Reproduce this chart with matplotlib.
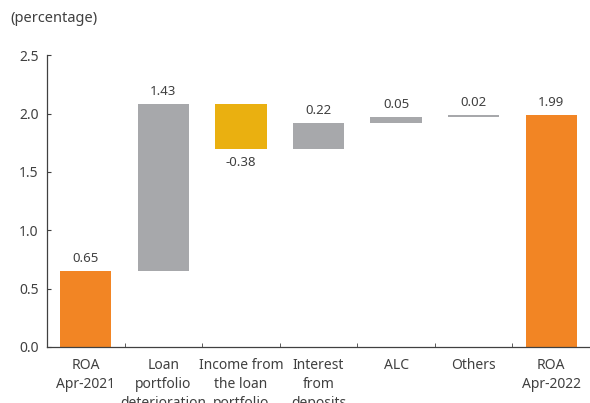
import matplotlib
matplotlib.use("Agg")
import matplotlib.pyplot as plt

categories = ["ROA\nApr-2021", "Loan\nportfolio\ndeterioration", "Income from\nthe loan\nportfolio",
              "Interest\nfrom\ndeposits", "ALC", "Others", "ROA\nApr-2022"]
changes = [0.65, 1.43, -0.38, 0.22, 0.05, 0.02, 1.99]
labels = ["0.65", "1.43", "-0.38", "0.22", "0.05", "0.02", "1.99"]
kinds = ["total", "delta", "delta", "delta", "delta", "delta", "total"]

ORANGE = "#F28524"
GRAY = "#A7A8AB"
GOLD = "#EAB010"
TXT = "#404040"

plt.rcParams['font.family'] = ['Noto Sans', 'DejaVu Sans']

fig = plt.figure(figsize=(5.9, 4.03), dpi=100)
ax = fig.add_axes([47/590, (403-347)/403, 1-47/590, (347-55.3)/403])

running = 0.0
for i, (v, k) in enumerate(zip(changes, kinds)):
    if k == "total":
        bottom, height = 0, v
        running = v
        color = ORANGE
    else:
        bottom, height = running, v
        running += v
        color = GOLD if v < 0 else GRAY
    ax.bar(i, height, bottom=bottom, width=0.66, color=color, edgecolor='none')
    top = max(bottom, bottom + height)
    low = min(bottom, bottom + height)
    if v >= 0:
        ax.text(i, top + 0.05, labels[i], ha='center', va='bottom', fontsize=9.5, color=TXT)
    else:
        ax.text(i, low - 0.06, labels[i], ha='center', va='top', fontsize=9.5, color=TXT)

ax.set_xlim(-0.5, 6.5)
ax.set_ylim(0, 2.5)
ax.set_yticks([0, 0.5, 1.0, 1.5, 2.0, 2.5])
ax.set_yticklabels(["0.0", "0.5", "1.0", "1.5", "2.0", "2.5"])
ax.set_xticks(range(len(categories)))
ax.set_xticklabels(categories, fontsize=10, color=TXT, linespacing=1.35)
ax.set_xticks([i + 0.5 for i in range(len(categories) - 1)], minor=True)
ax.tick_params(axis='x', which='major', length=0, pad=8)
ax.tick_params(axis='x', which='minor', direction='in', length=3, color=TXT)
ax.tick_params(axis='y', direction='in', length=3, labelsize=10, labelcolor=TXT, color=TXT, pad=6)
for s in ['top', 'right']:
    ax.spines[s].set_visible(False)
for s in ['left', 'bottom']:
    ax.spines[s].set_color(TXT)
    ax.spines[s].set_linewidth(0.9)

fig.text(10/590, 1 - 18/403, "(percentage)", fontsize=10.5, color=TXT, va='center', ha='left')

fig.savefig("out.png", dpi=100)
